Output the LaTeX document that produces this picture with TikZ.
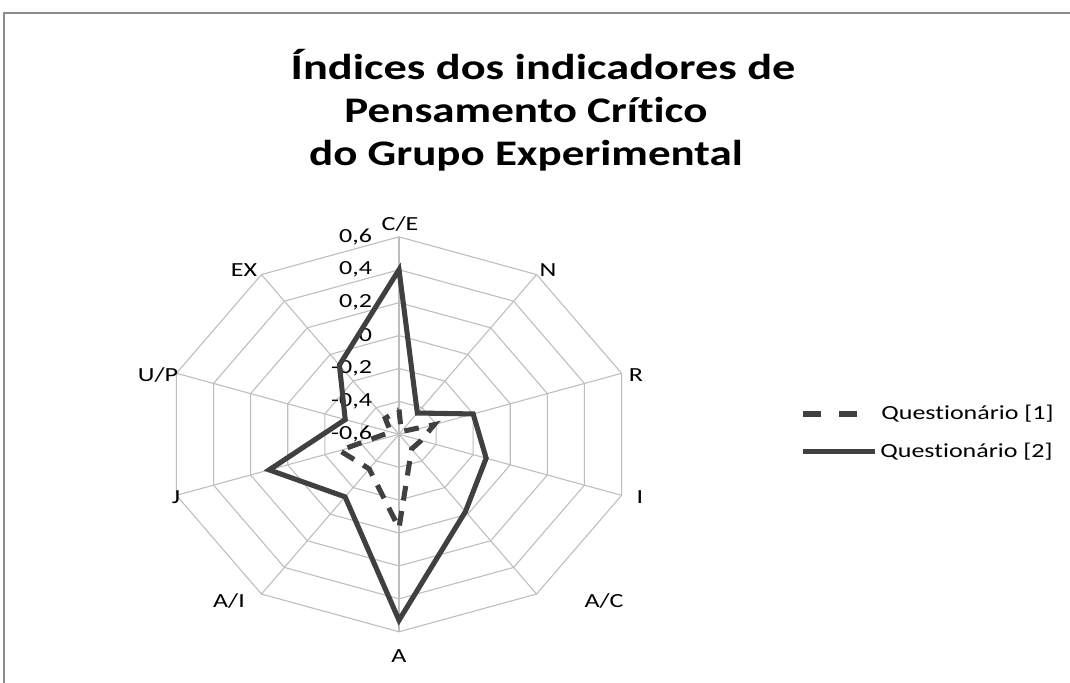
\documentclass[tikz,border=0pt]{standalone}
\usepackage{fontspec}
\setmainfont{Carlito}[Ligatures=NoCommon]
\definecolor{gridgray}{HTML}{BDBDBD}
\definecolor{seriegray}{HTML}{404040}
\definecolor{framegray}{HTML}{8C8C8C}
% value -> radius (scale from -0,6 to 0,6)
\newcommand{\rv}[1]{{(#1+0.6)/1.2}}
\tikzset{gridline/.style={gridgray,line width=0.8pt},
  serie/.style={seriegray,line width=3.8pt,line join=miter},
  seriedash/.style={serie,dash pattern=on 11pt off 8pt},
  titletext/.style={font=\fontsize{27}{27}\selectfont\bfseries,xscale=1.25,anchor=base},
  smalltext/.style={font=\fontsize{15}{15}\selectfont,xscale=1.3,inner sep=0pt}}

\begin{document}
\begin{tikzpicture}[x=0.75pt,y=0.75pt]
  \useasboundingbox (0,0) rectangle (1070,682);
  \fill[white] (0,0) rectangle (1070,682);
  \draw[framegray,line width=1.2pt] (4,-2) -- (4,669) -- (1075,669);
  % title
  \node[titletext,xscale=1.03] (title1) at (543,602) {Índices dos indicadores de};
  \node[titletext] (title2) at (526,559) {Pensamento Crítico};
  \node[titletext] (title3) at (526,516) {do Grupo Experimental};
  % radar
  \begin{scope}[shift={(399,247.7)},x=175.5pt,y=148.1pt]
    \foreach \r in {1,...,6}
      \draw[gridline] (90:{\r/6}) \foreach \k in {1,...,9} {-- ({90-36*\k}:{\r/6})} -- cycle;
    \foreach \k in {0,...,9}
      \draw[gridline] (0,0) -- ({90-36*\k}:1);
    \foreach \lab [count=\i from 0] in {{-0,6},{-0,4},{-0,2},{0},{0,2},{0,4},{0,6}}
      \node[smalltext,anchor=east] (tick\i) at ([xshift=-20pt]90:{\i/6}) {\lab};
    % Questionario [1]
    \draw[seriedash] (90:\rv{-0.45}) -- (54:\rv{-0.58}) -- (18:\rv{-0.41}) -- (-18:\rv{-0.48})
      -- (-54:\rv{-0.49}) -- (-90:\rv{-0.03}) -- (-126:\rv{-0.34}) -- (-162:\rv{-0.28})
      -- (162:\rv{-0.555}) -- (126:\rv{-0.48}) -- cycle;
    % Questionario [2]
    \draw[serie] (90:\rv{0.4}) -- (54:\rv{-0.44}) -- (18:\rv{-0.2}) -- (-18:\rv{-0.13})
      -- (-54:\rv{-0.02}) -- (-90:\rv{0.53}) -- (-126:\rv{-0.13}) -- (-162:\rv{0.1})
      -- (162:\rv{-0.31}) -- (126:\rv{-0.08}) -- cycle;
  \end{scope}
  % axis labels
  \node[smalltext] (ce) at (400,458) {C/E};
  \node[smalltext] (n) at (548,412) {N};
  \node[smalltext] (r) at (636,307) {R};
  \node[smalltext] (i) at (640,185) {I};
  \node[smalltext] (ac) at (604,81) {A/C};
  \node[smalltext] (a) at (399,26) {A};
  \node[smalltext] (ai) at (229,81) {A/I};
  \node[smalltext] (j) at (176,185) {J};
  \node[smalltext] (up) at (158,307) {U/P};
  \node[smalltext] (ex) at (244,412) {EX};
  % legend
  \coordinate (l1a) at (803,268);
  \coordinate (l1b) at (858,268);
  \coordinate (l2a) at (803,230.3);
  \coordinate (l2b) at (875,230.3);
  \draw[serie,dash pattern=on 13.5pt off 13.5pt] (l1a) -- (l1b);
  \draw[serie] (l2a) -- (l2b);
  \node[smalltext,anchor=west] (leg1) at (881,268) {Questionário [1]};
  \node[smalltext,anchor=west] (leg2) at (880,230.3) {Questionário [2]};
\end{tikzpicture}
\end{document}
